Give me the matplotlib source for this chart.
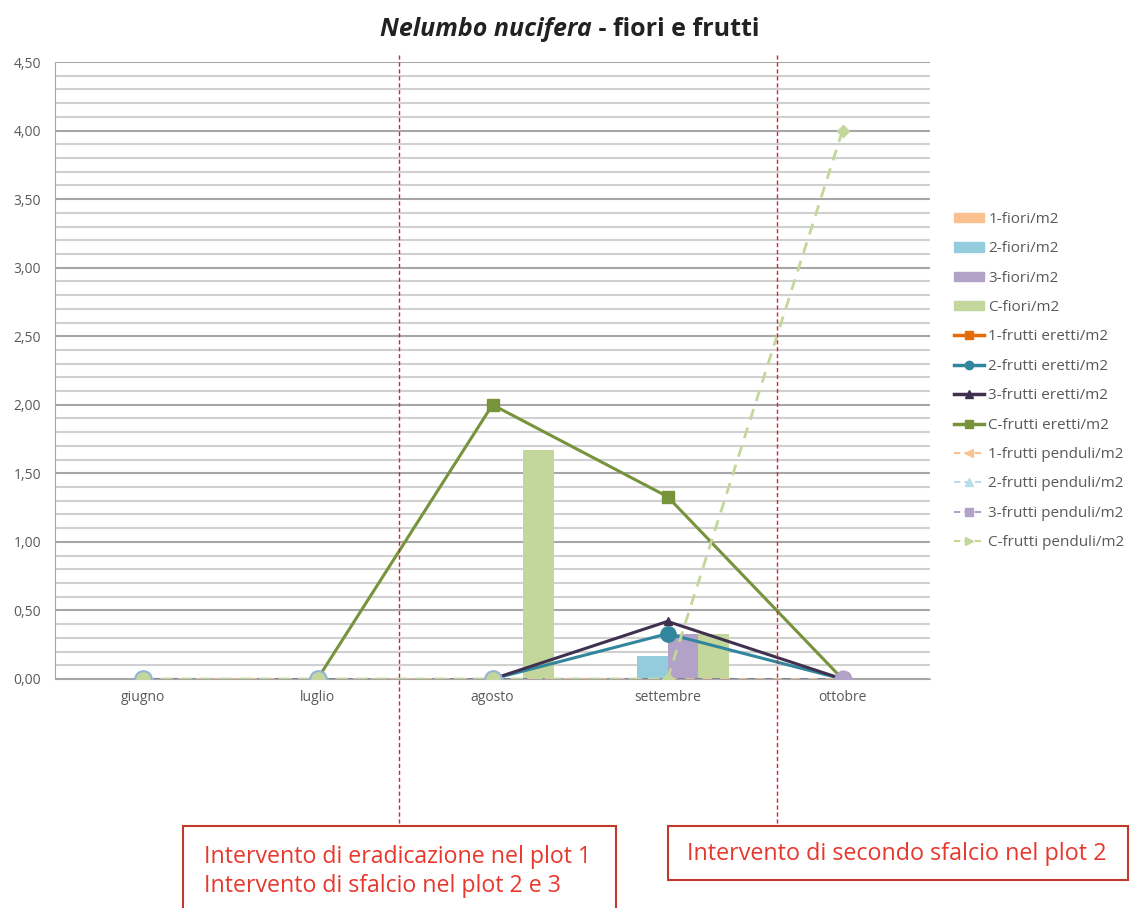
import numpy as np
import matplotlib.pyplot as plt
from matplotlib.lines import Line2D
from matplotlib.patches import Patch, Rectangle
from matplotlib.ticker import MultipleLocator, FuncFormatter
import matplotlib.transforms as mtransforms

plt.rcParams['font.family'] = ['Open Sans', 'DejaVu Sans']

months = ['giugno', 'luglio', 'agosto', 'settembre', 'ottobre']

# fiori/m2 (bars)
fiori_1 = [0, 0, 0, 0, 0]
fiori_2 = [0, 0, 0, 0.17, 0]
fiori_3 = [0, 0, 0, 0.33, 0]
fiori_C = [0, 0, 1.67, 0.33, 0]

# frutti eretti/m2 (solid lines)
eretti_1 = [np.nan, np.nan, np.nan, np.nan, np.nan]
eretti_2 = [np.nan, np.nan, 0, 0.33, 0]
eretti_3 = [np.nan, np.nan, 0, 0.42, 0]
eretti_C = [np.nan, 0, 2.0, 1.33, 0]

# frutti penduli/m2 (dashed lines)
penduli_1 = [0, 0, 0, 0, 0]
penduli_2 = [0, 0, 0, 0, 0]
penduli_3 = [0, 0, 0, 0, 0]
penduli_C = [0, 0, 0, 0, 4.0]

# position of the two interventions (between months)
interventi_x = [1.463, 3.623]

c_fiori = ['#fac090', '#93cddd', '#b3a2c7', '#c3d69b']
c_eretti = ['#e46c0a', '#31859c', '#403151', '#77933c']
c_penduli = ['#fac090', '#b7dee8', '#b3a2c7', '#c4d79b']
gray = '#595959'

fig = plt.figure(figsize=(11.31, 9.08), dpi=100)
ax = fig.add_axes([55 / 1131, 229 / 908, 875 / 1131, 617 / 908])

x = np.arange(len(months))
w = 0.177
for i, (vals, col) in enumerate(zip([fiori_1, fiori_2, fiori_3, fiori_C], c_fiori)):
    ax.bar(x + (i - 1.5) * w, vals, width=w, color=col, zorder=2)

mk_er = ['s', 'o', '^', 's']
ms_er = [7, 11, 6, 9]
for vals, col, m, ms in zip([eretti_1, eretti_2, eretti_3, eretti_C], c_eretti, mk_er, ms_er):
    ax.plot(x, vals, color=col, lw=2.2, marker=m, ms=ms, zorder=4)

ax.plot(x, penduli_1, color=c_penduli[0], lw=1.8, ls=(0, (4, 3)), zorder=5)
ax.plot(x, penduli_2, color='#6f7f8f', lw=1.8, ls=(3.5, (3, 4)), zorder=5)
ax.plot(x, penduli_3, color='#7f7f9f', lw=1.8, ls=(3.5, (3, 4)), marker='o', ms=12,
        mfc=c_penduli[2], mec='#b3a2c7', markevery=[4], zorder=5)
ax.plot(x, penduli_C, color=c_penduli[3], lw=2, ls=(0, (4, 3)), marker='o', ms=12,
        mfc='#c3d69b', mec='#95b3d7', mew=1.5, markevery=[0, 1, 2], zorder=6)
ax.plot(x, penduli_C, ls='none', marker='D', ms=6, color='#c4d79b', markevery=[3, 4], zorder=6)

ax.set_xlim(-0.5, 4.5)
ax.set_ylim(0, 4.5)
ax.yaxis.set_major_locator(MultipleLocator(0.5))
ax.yaxis.set_minor_locator(MultipleLocator(0.1))
ax.yaxis.set_major_formatter(FuncFormatter(lambda v, p: f'{v:.2f}'.replace('.', ',')))
ax.grid(axis='y', which='major', color='#a6a6a6', lw=1.5, zorder=0)
ax.grid(axis='y', which='minor', color='#d0d0d0', lw=1.5, zorder=0)
ax.set_axisbelow(True)
ax.set_xticks(x)
ax.set_xticklabels(months)
ax.tick_params(axis='both', which='both', length=0, labelsize=10, colors=gray)
ax.tick_params(axis='y', pad=10)
ax.tick_params(axis='x', pad=8)
for s in ['top', 'right']:
    ax.spines[s].set_visible(False)
ax.spines['left'].set_color('#a6a6a6')
ax.spines['bottom'].set_color('#a6a6a6')

# red dashed lines marking the interventions
trans = mtransforms.blended_transform_factory(ax.transData, fig.transFigure)
for xi in interventi_x:
    ax.add_line(Line2D([xi, xi], [1 - 55 / 908, 1 - 826 / 908], transform=trans,
                       color='#e0202a', lw=1, ls=(0, (3, 2)), clip_on=False, zorder=7))

# boxes with notes
red_edge = '#c0392b'
red_text = '#e8382e'
fig.patches.append(Rectangle((183 / 1131, -0.02), 433 / 1131, 1 - 826 / 908 + 0.02,
                             transform=fig.transFigure, fill=False, ec=red_edge, lw=1.5))
fig.patches.append(Rectangle((668 / 1131, 1 - 880 / 908), 460 / 1131, 54 / 908,
                             transform=fig.transFigure, fill=False, ec=red_edge, lw=1.5))
fig.text(204 / 1131, 1 - 857 / 908, 'Intervento di eradicazione nel plot 1', color=red_text,
         fontsize=16.7, va='center')
fig.text(204 / 1131, 1 - 886 / 908, 'Intervento di sfalcio nel plot 2 e 3', color=red_text,
         fontsize=16.7, va='center')
fig.text(687 / 1131, 1 - 854 / 908, 'Intervento di secondo sfalcio nel plot 2', color=red_text,
         fontsize=16.8, va='center')

# title: italic species name followed by plain bold text
t1 = fig.text(380 / 1131, 1 - 30 / 908, 'Nelumbo nucifera', fontsize=18, fontweight='bold',
              style='italic', va='center', color='#222222')
ax.annotate(' - fiori e frutti', xy=(1, 0.5), xycoords=t1, va='center', ha='left',
            fontsize=18, fontweight='bold', color='#222222', annotation_clip=False)

# legend
labels = ['1-fiori/m2', '2-fiori/m2', '3-fiori/m2', 'C-fiori/m2',
          '1-frutti eretti/m2', '2-frutti eretti/m2', '3-frutti eretti/m2', 'C-frutti eretti/m2',
          '1-frutti penduli/m2', '2-frutti penduli/m2', '3-frutti penduli/m2', 'C-frutti penduli/m2']
handles = [Patch(color=c) for c in c_fiori]
handles += [Line2D([], [], color=c, lw=2.5, marker=m, ms=6) for c, m in zip(c_eretti, ['s', 'o', '^', 's'])]
handles += [Line2D([], [], color=c, lw=1.5, ls=(0, (3, 2)), marker=m, ms=6)
            for c, m in zip(c_penduli, ['<', '^', 's', '>'])]
fig.legend(handles, labels, loc='center left', bbox_to_anchor=(954 / 1131, 1 - 381 / 908),
           frameon=False, fontsize=11, labelcolor=gray, labelspacing=0.94, handlelength=1.95,
           handleheight=0.55, handletextpad=0.3, borderpad=0, borderaxespad=0)

fig.savefig('out.png', dpi=100)
